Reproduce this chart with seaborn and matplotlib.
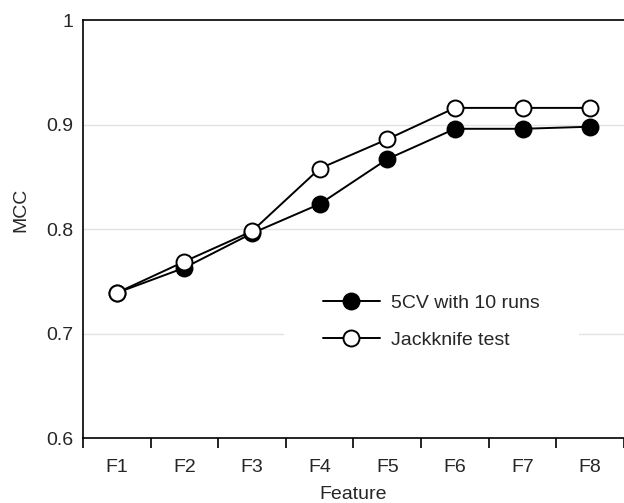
import numpy as np
import pandas as pd
import matplotlib
matplotlib.use("Agg")
import matplotlib.pyplot as plt
import seaborn as sns

# -----------------------------
# Data
# -----------------------------

features = ["F1", "F2", "F3", "F4", "F5", "F6", "F7", "F8"]
cv_10_runs = [0.739, 0.763, 0.796, 0.824, 0.867, 0.896, 0.896, 0.898]
jackknife = [0.739, 0.769, 0.798, 0.858, 0.886, 0.916, 0.916, 0.916]
y_ticks = [0.6, 0.7, 0.8, 0.9, 1.0]
y_tick_labels = ["0.6", "0.7", "0.8", "0.9", "1"]

df = pd.DataFrame({"Feature": features, "5CV": cv_10_runs, "Jackknife": jackknife})

# -----------------------------
# Style
# -----------------------------

sns.set_style("white")
plt.rcParams["font.family"] = ["Liberation Sans", "DejaVu Sans"]

fig = plt.figure(figsize=(6.24, 5.03), dpi=100)
ax = fig.add_axes([0.133, 0.129, 0.867, 0.831])

pos = np.arange(len(features))

sns.lineplot(x=pos, y=df["5CV"], ax=ax, color="black", lw=1.4,
             marker="o", markersize=11.5, markerfacecolor="black",
             markeredgecolor="black", markeredgewidth=1.4,
             label="5CV with 10 runs")
sns.lineplot(x=pos, y=df["Jackknife"], ax=ax, color="black", lw=1.4,
             marker="o", markersize=11.5, markerfacecolor="white",
             markeredgecolor="black", markeredgewidth=1.4,
             label="Jackknife test")

# -----------------------------
# Axes
# -----------------------------

ax.set_ylim(0.6, 1.0)
ax.set_xlim(-0.5, 7.31)
ax.set_yticks(y_ticks)
ax.set_yticklabels(y_tick_labels)
ax.set_xticks(pos)
ax.set_xticklabels(features)
ax.set_xticks(np.arange(-0.5, 8.0, 1.0), minor=True)
ax.tick_params(axis="x", which="major", length=0, pad=15, labelsize=14)
ax.tick_params(axis="x", which="minor", length=7, width=1.2, color="black",
               direction="out", bottom=True)
ax.tick_params(axis="y", length=0, pad=7, labelsize=14)

for y in [0.7, 0.8, 0.9]:
    ax.axhline(y, color="#e3e3e3", lw=1.0, zorder=0)

for side in ["left", "bottom", "top"]:
    ax.spines[side].set_color("black")
    ax.spines[side].set_linewidth(1.2)
ax.spines["right"].set_visible(False)

ax.set_xlabel("Feature", fontsize=14, labelpad=7)
ax.set_ylabel("MCC", fontsize=14)
ax.yaxis.set_label_coords(-0.1, 0.545)

leg = ax.legend(loc="center left", bbox_to_anchor=(0.372, 0.278), fontsize=14,
                frameon=True, facecolor="white", edgecolor="white", framealpha=1,
                handlelength=2.9, handletextpad=0.6, labelspacing=1.0,
                borderpad=2.0, borderaxespad=0)
leg.get_frame().set_linewidth(0)

fig.savefig("out.png", dpi=100)
